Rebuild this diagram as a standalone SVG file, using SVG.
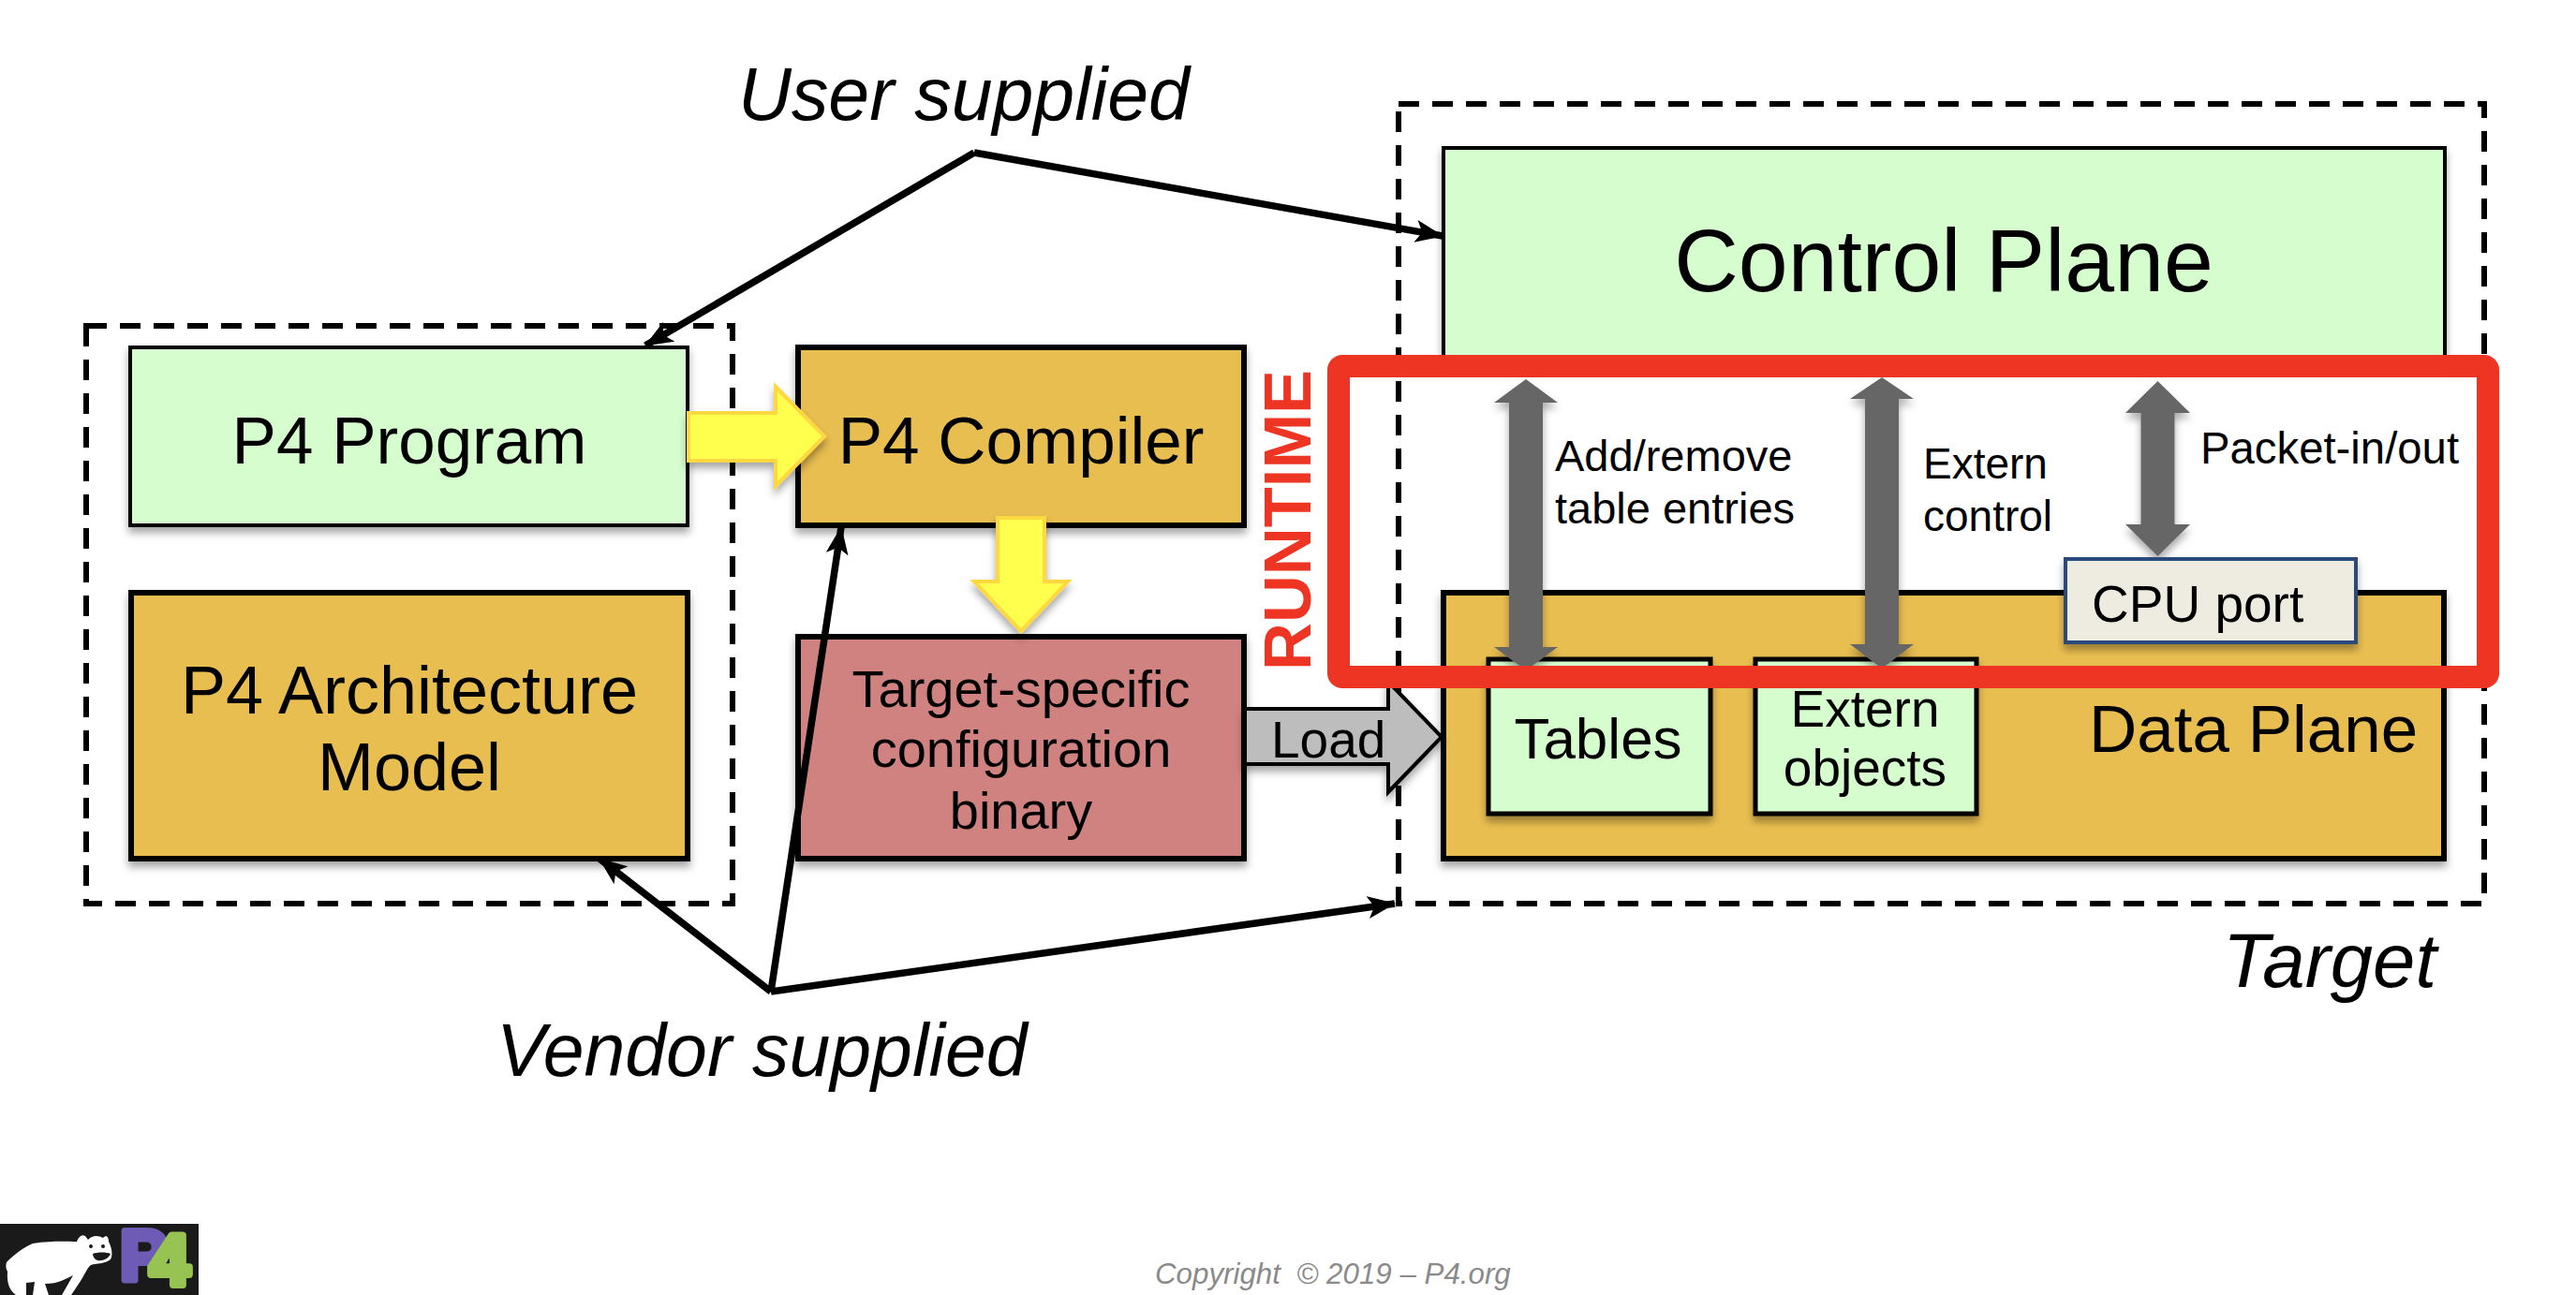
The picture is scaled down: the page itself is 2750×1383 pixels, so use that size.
<svg xmlns="http://www.w3.org/2000/svg" width="2750" height="1383" viewBox="0 0 2750 1383">
<defs>
<filter id="sh" x="-10%" y="-10%" width="120%" height="125%"><feDropShadow dx="0" dy="6" stdDeviation="4" flood-color="#000" flood-opacity="0.35"/></filter>
<marker id="ah" markerUnits="userSpaceOnUse" markerWidth="30" markerHeight="24" viewBox="0 0 30 24" refX="29" refY="12" orient="auto"><path d="M0,0 L30,12 L0,24 L7,12z" fill="#000"/></marker>
</defs>
<style>
text{font-family:"Liberation Sans",Arial,sans-serif;fill:#000}
.box{stroke:#000;stroke-width:6;filter:url(#sh)}
.dash{fill:none;stroke:#000;stroke-width:6;stroke-dasharray:22 14}
.green{fill:#d5fdcd}
.gold{fill:#e9be51}
.c{text-anchor:middle}
.it{font-style:italic;font-size:78.8px}
.line{fill:none;stroke:#000;stroke-width:7.5;marker-end:url(#ah)}
.yel{fill:#ffff4d;stroke:#fdd83f;stroke-width:4;filter:url(#sh)}
.gray{fill:#666;filter:url(#sh)}
</style>
<rect width="2750" height="1383" fill="#fff"/>
<g id="vendor-user-dashed"><rect class="dash" x="92" y="348" width="690" height="617"/></g>
<g id="target-dashed"><rect class="dash" x="1493" y="111" width="1159" height="854"/></g>
<g id="p4-program"><rect class="box green" x="139" y="371" width="595" height="190" style="stroke-width:4"/><text class="c" x="437" y="495" font-size="71">P4 Program</text></g>
<g id="p4-arch"><rect class="box gold" x="140" y="633" width="594" height="284"/><text class="c" x="437" y="762" font-size="72">P4 Architecture</text><text class="c" x="437" y="844" font-size="72">Model</text></g>
<g id="control-plane"><rect class="box green" x="1541" y="158" width="1069" height="230" style="stroke-width:4"/><text class="c" x="2075" y="311" font-size="95">Control Plane</text></g>
<g id="data-plane"><rect class="box gold" x="1541" y="633" width="1068" height="284"/><text x="2230" y="803" font-size="71">Data Plane</text></g>
<g id="tables"><rect class="box green" x="1589" y="704" width="237" height="165" style="stroke-width:5"/><text class="c" x="1706" y="810" font-size="62">Tables</text></g>
<g id="extern-objects"><rect class="box green" x="1874" y="704" width="236" height="165" style="stroke-width:5"/><text class="c" x="1991" y="776" font-size="55">Extern</text><text class="c" x="1991" y="839" font-size="55">objects</text></g>
<g id="p4-compiler"><rect class="box gold" x="852" y="371" width="476" height="190"/><text class="c" x="1090" y="495" font-size="71">P4 Compiler</text></g>
<g id="binary"><rect class="box" fill="#d08280" x="852" y="680" width="476" height="237"/><text class="c" x="1090" y="755" font-size="56">Target-specific</text><text class="c" x="1090" y="819" font-size="56">configuration</text><text class="c" x="1090" y="885" font-size="56">binary</text></g>
<g id="connectors">
<path class="yel" d="M735,441H828V413L880,466L828,519V492H735z"/>
<path class="yel" d="M1065,553H1115V621H1140L1090,674L1040,621H1065z"/>
<path d="M1329,757H1482V728L1539,787L1482,846V816H1329z" fill="#bdbdbd" stroke="#000" stroke-width="4" filter="url(#sh)"/>
<text x="1357" y="809" font-size="55">Load</text>
<path class="gray" d="M1629,405L1663,430H1647V691H1663L1629,716L1595,691H1611V430H1595z"/>
<path class="gray" d="M2009,403L2043,426H2027V688H2043L2009,714L1975,688H1991V426H1975z"/>
<path class="gray" d="M2303.5,407L2338,441H2321.5V560H2338L2303.5,594L2269,560H2285.5V441H2269z"/>
<path class="line" d="M1040,163L689,369"/>
<path class="line" d="M1040,163L1540,252"/>
<path class="line" d="M823,1059L640,917"/>
<path class="line" d="M823,1059L898,563"/>
<path class="line" d="M823,1059L1489,965"/>
</g>
<g id="cpu-port"><rect x="2205" y="597" width="310" height="89" fill="#eeece1" stroke="#2c4a7c" stroke-width="4" filter="url(#sh)"/><text x="2233" y="664" font-size="55">CPU port</text></g>
<g id="runtime"><rect x="1429" y="391" width="1227" height="332" rx="4" fill="none" stroke="#ee3524" stroke-width="24"/><text transform="translate(1399 716) rotate(-90)" font-size="70.5" font-weight="bold" style="fill:#ee3524">RUNTIME</text></g>
<g id="labels">
<text x="1660" y="503" font-size="47">Add/remove</text><text x="1660" y="559" font-size="47">table entries</text>
<text x="2053" y="511" font-size="46">Extern</text><text x="2053" y="567" font-size="46">control</text>
<text x="2349" y="495" font-size="47.3">Packet-in/out</text>
<text class="it" x="788" y="128">User supplied</text>
<text class="it" x="530" y="1149">Vendor supplied</text>
<text class="it" x="2373" y="1054" style="font-size:81.5px">Target</text>
<text x="1233" y="1371" font-size="31.3" font-style="italic" style="fill:#8a8a8a;white-space:pre">Copyright  © 2019 – P4.org</text>
</g>
<g id="logo">
<rect x="0" y="1307" width="212" height="76" fill="#1a1a1a"/>
<path fill="#fff" d="M7,1348C15,1340 25,1332 35,1328C55,1325 70,1326 82,1326C84,1320 88,1318 91,1320L94,1324C98,1319 105,1319 110,1322C113,1319 116,1320 116,1326C119,1332 121,1340 118,1345C112,1350 103,1349 97,1351C93,1354 90,1362 86,1368L76,1383H66L78,1362C70,1366 62,1371 48,1371L52,1383H35L37,1369L28,1370L28,1383H17C10,1378 7,1370 8,1358C6,1355 6,1351 7,1348z"/>
<path fill="#1a1a1a" d="M99,1339C104,1337 114,1337 118,1339C116,1344 110,1347 104,1346C101,1345 99,1342 99,1339z"/>
<circle cx="97" cy="1331" r="2" fill="#1a1a1a"/><circle cx="110" cy="1331" r="2" fill="#1a1a1a"/>
<text x="128" y="1367" font-size="76" font-weight="bold" stroke="#6e5bb5" stroke-width="7" stroke-linejoin="round" style="fill:#6e5bb5">P</text>
<text x="160" y="1372" font-size="76" font-weight="bold" stroke="#96c352" stroke-width="8" stroke-linejoin="round" style="fill:#96c352">4</text>
</g>
</svg>
